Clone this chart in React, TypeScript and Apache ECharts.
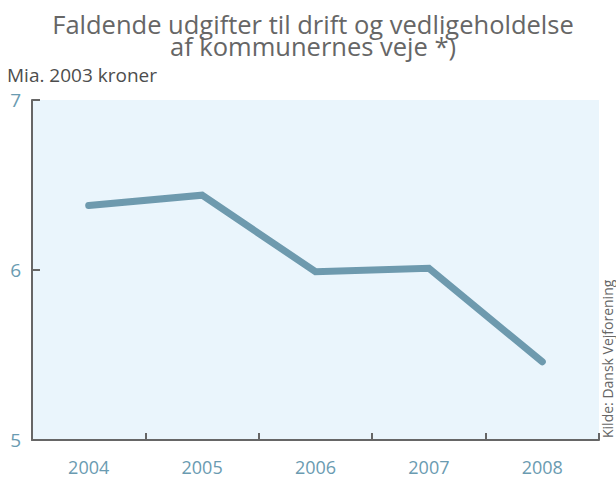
import React, { useEffect, useRef } from "react";
import * as echarts from "echarts";

const categories = ["2004", "2005", "2006", "2007", "2008"];
const values = [6.38, 6.44, 5.99, 6.01, 5.46];
const titleLines = ["Faldende udgifter til drift og vedligeholdelse", "af kommunernes veje *)"];
const unitLabel = "Mia. 2003 kroner";
const sourceLabel = "Kilde: Dansk Vejforening";

const FONT = "'Open Sans', 'Noto Sans', sans-serif";

export default function App() {
  const ref = useRef<HTMLDivElement>(null);
  useEffect(() => {
    if (!ref.current) return;
    const chart = echarts.init(ref.current, undefined, { renderer: "svg" });
    chart.setOption({
      animation: false,
      grid: {
        left: 32,
        right: 17,
        top: 100,
        bottom: 39,
        show: true,
        backgroundColor: "#eaf5fc",
        borderWidth: 0,
      },
      xAxis: {
        type: "category",
        data: categories,
        boundaryGap: true,
        axisLine: { show: true, lineStyle: { color: "#666666", width: 2 } },
        axisTick: { show: true, inside: true, length: 7, lineStyle: { color: "#666666", width: 2 } },
        axisLabel: { color: "#6a9bb1", fontSize: 18, lineHeight: 14, margin: 20, fontFamily: FONT },
        splitLine: { show: false },
      },
      yAxis: {
        type: "value",
        min: 5,
        max: 7,
        interval: 1,
        axisLine: { show: true, lineStyle: { color: "#666666", width: 2 } },
        axisTick: { show: true, inside: true, length: 8, lineStyle: { color: "#666666", width: 2 } },
        axisLabel: { color: "#6a9bb1", fontSize: 19, margin: 11, fontFamily: FONT },
        splitLine: { show: false },
      },
      series: [
        {
          type: "line",
          data: values,
          symbol: "none",
          lineStyle: { color: "#6e9aae", width: 7, cap: "round", join: "miter" },
        },
      ],
      graphic: [
        {
          type: "text",
          x: 313,
          y: 13,
          style: {
            text: titleLines.join("\n"),
            fill: "#666666",
            fontSize: 25.5,
            lineHeight: 22,
            fontFamily: FONT,
            textAlign: "center",
            textVerticalAlign: "top",
          },
        },
        {
          type: "text",
          x: 7,
          y: 75,
          style: {
            text: unitLabel,
            fill: "#4d4d4d",
            fontSize: 19,
            fontFamily: FONT,
            textAlign: "left",
            textVerticalAlign: "middle",
          },
        },
        {
          type: "text",
          x: 607,
          y: 438,
          rotation: Math.PI / 2,
          style: {
            text: sourceLabel,
            fill: "#666666",
            fontSize: 14,
            lineHeight: 14,
            fontFamily: FONT,
            textAlign: "left",
            textVerticalAlign: "middle",
          },
        },
      ],
    });
    return () => chart.dispose();
  }, []);
  return (
    <div
      ref={ref}
      style={{ position: "absolute", left: 0, top: 0, width: 616, height: 479, background: "#ffffff" }}
    />
  );
}
